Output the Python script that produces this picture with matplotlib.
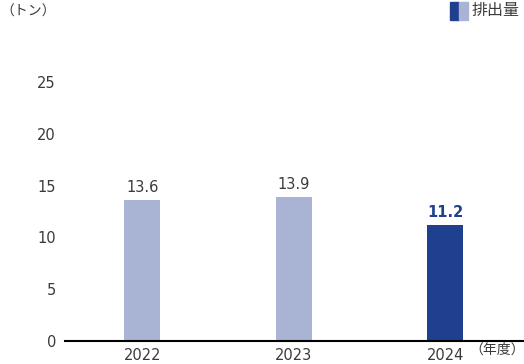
import matplotlib.pyplot as plt
from matplotlib.patches import Rectangle

plt.rcParams['font.family'] = ['DejaVu Sans', 'Noto Sans CJK JP']

years = ["2022", "2023", "2024"]
values = [13.6, 13.9, 11.2]
y_ticks = [0, 5, 10, 15, 20, 25]

LIGHT = "#a9b4d5"
DARK = "#1f3f8f"
TEXT = "#3a3a3a"
CJK = ['Noto Sans CJK JP', 'DejaVu Sans']

W, H = 524, 364
fig = plt.figure(figsize=(W / 100, H / 100), dpi=100)
ax = fig.add_axes([65 / W, 23 / H, (W - 65) / W, 311 / H])

colors = [LIGHT, LIGHT, DARK]
x = list(range(len(years)))
ax.bar(x, values, width=0.24, color=colors, zorder=2)

for i, v in enumerate(values):
    if i == len(values) - 1:
        ax.text(i, v + 0.45, f"{v}", ha="center", va="bottom", fontsize=10.5,
                color=DARK, fontweight="bold")
    else:
        ax.text(i, v + 0.45, f"{v}", ha="center", va="bottom", fontsize=10.5,
                color=TEXT)

ax.set_xlim(-0.51, 2.52)
ax.set_ylim(0, 30)
ax.set_yticks(y_ticks)
ax.set_xticks(x)
ax.set_xticklabels(years)
ax.tick_params(axis="both", length=0, labelsize=10.5, labelcolor=TEXT)
ax.tick_params(axis="y", pad=6.5)
ax.tick_params(axis="x", pad=5)

for s in ["top", "right", "left"]:
    ax.spines[s].set_visible(False)
ax.spines["bottom"].set_color("black")
ax.spines["bottom"].set_linewidth(1.5)

fig.text(0 / W, 1 - 12 / H, "（トン）", ha="left", va="center", fontsize=10,
         color=TEXT, family=CJK)
fig.text(469 / W, 1 - 350 / H, "（年度）", ha="left", va="center", fontsize=10,
         color=TEXT, family=CJK)

# legend swatch
fig.patches.append(Rectangle((450 / W, 1 - 20 / H), 9 / W, 18 / H,
                             transform=fig.transFigure, color=DARK))
fig.patches.append(Rectangle((459 / W, 1 - 20 / H), 9 / W, 18 / H,
                             transform=fig.transFigure, color=LIGHT))
fig.text(472 / W, 1 - 11 / H, "排出量", ha="left", va="center", fontsize=11.5,
         color=TEXT, family=CJK)

fig.savefig("out.png", dpi=100)
